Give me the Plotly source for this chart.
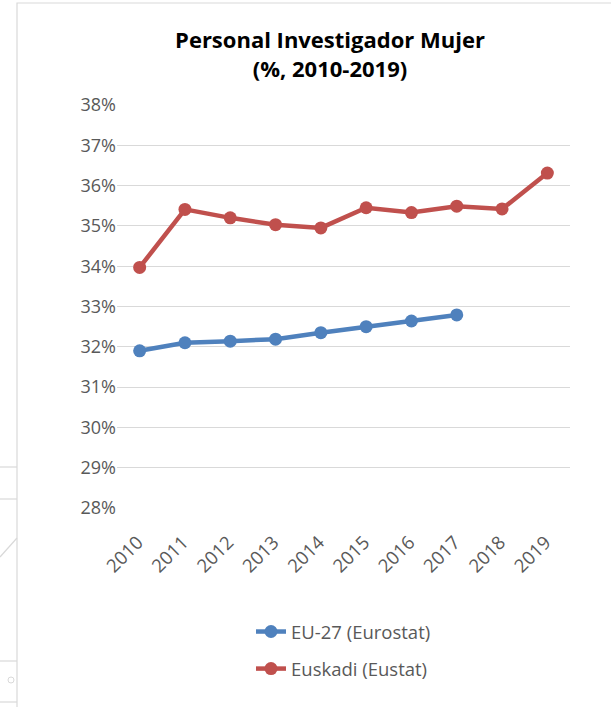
import plotly.graph_objects as go

years = ["2010", "2011", "2012", "2013", "2014", "2015", "2016", "2017", "2018", "2019"]
eu27 = [31.9, 32.1, 32.14, 32.19, 32.35, 32.5, 32.64, 32.79, None, None]
euskadi = [33.97, 35.41, 35.2, 35.03, 34.95, 35.45, 35.33, 35.49, 35.42, 36.31]
ytick_vals = [28, 29, 30, 31, 32, 33, 34, 35, 36, 37, 38]
ytick_text = [f"{v}%" for v in ytick_vals]

BLUE = "#4F81BD"
RED = "#C0504D"
FONT = "Open Sans"

fig = go.Figure()
fig.add_trace(go.Scatter(
    x=years, y=eu27, name="EU-27 (Eurostat)", mode="lines+markers",
    line=dict(color=BLUE, width=4.5), marker=dict(color=BLUE, size=13),
    legendgroup="a", connectgaps=False,
))
fig.add_trace(go.Scatter(
    x=years, y=euskadi, name="Euskadi (Eustat)", mode="lines+markers",
    line=dict(color=RED, width=4.5), marker=dict(color=RED, size=13),
    legendgroup="b",
))

L, R, T, B = 117, 41, 105, 199
W, H = 611, 707
pw, ph = W - L - R, H - T - B

def px_x(x):
    return (x - L) / pw

def px_y(y):
    return (H - B - y) / ph

shapes = [
    dict(type="rect", xref="paper", yref="paper",
         x0=px_x(17), x1=px_x(640), y0=px_y(3), y1=px_y(760),
         line=dict(color="#D9D9D9", width=1.2), layer="below"),
    dict(type="line", xref="paper", yref="paper",
         x0=px_x(0), x1=px_x(17), y0=px_y(467), y1=px_y(467),
         line=dict(color="#D9D9D9", width=1.2)),
    dict(type="line", xref="paper", yref="paper",
         x0=px_x(0), x1=px_x(17), y0=px_y(499), y1=px_y(499),
         line=dict(color="#D9D9D9", width=1.2)),
    dict(type="line", xref="paper", yref="paper",
         x0=px_x(0), x1=px_x(17), y0=px_y(557), y1=px_y(538),
         line=dict(color="#D9D9D9", width=1.2)),
    dict(type="line", xref="paper", yref="paper",
         x0=px_x(0), x1=px_x(17), y0=px_y(661), y1=px_y(661),
         line=dict(color="#D9D9D9", width=1.2)),
    dict(type="line", xref="paper", yref="paper",
         x0=px_x(0), x1=px_x(17), y0=px_y(702), y1=px_y(702),
         line=dict(color="#D9D9D9", width=1.2)),
    dict(type="circle", xref="paper", yref="paper",
         x0=px_x(8), x1=px_x(14), y0=px_y(677), y1=px_y(683),
         line=dict(color="#D9D9D9", width=1)),
]

fig.update_layout(
    width=W, height=H,
    margin=dict(l=L, r=R, t=T, b=B),
    paper_bgcolor="white", plot_bgcolor="white",
    font=dict(family=FONT, color="#595959", size=18),
    title=dict(
        text="<b>Personal Investigador Mujer<br>(%, 2010-2019)</b>",
        x=330 / W, xanchor="center", y=1 - 48 / H, yanchor="top",
        font=dict(family=FONT, size=22, color="#000000"),
    ),
    xaxis=dict(
        type="category", range=[-0.5, 9.5], tickangle=-45,
        showgrid=False, showline=False, ticks="", zeroline=False,
        tickfont=dict(size=18.5, color="#595959"),
        ticklabelstandoff=19, ticklabelshift=-2,
    ),
    yaxis=dict(
        range=[28, 38], tickvals=ytick_vals, ticktext=ytick_text,
        showgrid=True, gridcolor="#D9D9D9", gridwidth=1.3,
        zeroline=False, showline=False, ticks="",
        tickfont=dict(size=18, color="#595959"),
    ),
    showlegend=True,
    legend=dict(
        orientation="v", x=px_x(251), xanchor="left",
        y=px_y(613), yanchor="top",
        font=dict(size=18.5, color="#595959"),
        tracegroupgap=10, bgcolor="rgba(0,0,0,0)",
    ),
    shapes=shapes,
)

fig.write_html(
    "out.html",
    config={"displayModeBar": False},
    post_script="document.body.style.margin='0px';document.body.style.padding='0px';",
)
